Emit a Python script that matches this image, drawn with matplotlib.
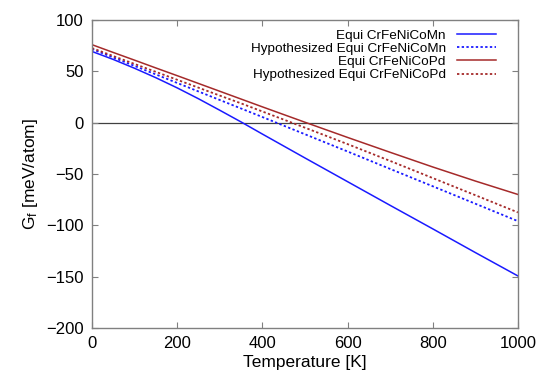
import numpy as np
import matplotlib as mpl
mpl.rcParams['figure.dpi'] = 100
import matplotlib.pyplot as plt

plt.rcParams['font.family'] = ['Liberation Sans', 'DejaVu Sans']
plt.rcParams['mathtext.fontset'] = 'custom'
plt.rcParams['mathtext.rm'] = 'Liberation Sans'
plt.rcParams['mathtext.it'] = 'Liberation Sans:italic'

# temperature grid [K]
temp = [0, 50, 100, 150, 200, 250, 300, 350, 400, 500, 600, 700, 800, 900, 1000]

# formation free energy [meV/atom]
mn_equi = [69.5, 61.7, 53.1, 43.9, 34.0, 23.4, 12.2, 0.8, -11.0, -34.3, -57.4, -80.5, -103.4, -126.5, -149.3]
mn_hyp = [71.8, 63.6, 55.4, 47.1, 38.8, 30.5, 22.2, 13.9, 5.6, -11.2, -28.0, -45.0, -61.9, -78.9, -95.9]
pd_equi = [76.1, 68.5, 61.0, 53.4, 45.9, 38.3, 30.7, 23.1, 15.5, 0.5, -14.3, -28.8, -43.1, -56.8, -69.9]
pd_hyp = [72.8, 65.0, 57.3, 49.6, 41.9, 34.2, 26.5, 18.9, 11.0, -4.8, -20.8, -37.2, -53.9, -70.6, -87.4]

labels = ['Equi CrFeNiCoMn', 'Hypothesized Equi CrFeNiCoMn',
          'Equi CrFeNiCoPd', 'Hypothesized Equi CrFeNiCoPd']

blue = '#1a1aff'
red = '#a52a2a'
dots = (0, (1.3, 1.3))

fig = plt.figure(figsize=(5.44, 3.8))
ax = fig.add_axes([0.169, 0.137, 0.783, 0.81])

ax.axhline(0, color='#404040', lw=0.9, zorder=1)
ax.plot(temp, mn_equi, color=blue, lw=1.1, label=labels[0])
ax.plot(temp, mn_hyp, color=blue, lw=1.3, ls=dots, label=labels[1])
ax.plot(temp, pd_equi, color=red, lw=1.1, label=labels[2])
ax.plot(temp, pd_hyp, color=red, lw=1.3, ls=dots, label=labels[3])

ax.set_xlim(0, 1000)
ax.set_ylim(-200, 100)
ax.set_xticks([0, 200, 400, 600, 800, 1000])
ax.set_yticks([-200, -150, -100, -50, 0, 50, 100])
ax.set_yticklabels(['\u2212200', '\u2212150', '\u2212100', '\u221250', '0', '50', '100'])
ax.tick_params(direction='in', top=True, right=True, length=4, width=0.8,
               color='#808080', labelsize=12, pad=6)
for s in ax.spines.values():
    s.set_color('#808080')
    s.set_linewidth(1.0)

ax.set_xlabel('Temperature [K]', fontsize=12.5, labelpad=3)
ax.set_ylabel(r'G$_\mathrm{f}$ [meV/atom]', fontsize=12.5, labelpad=4)

leg = ax.legend(loc='upper right', frameon=False, markerfirst=False, fontsize=9.7,
                handlelength=2.9, handletextpad=0.8, labelspacing=0.05,
                borderaxespad=0.3, bbox_to_anchor=(0.97, 1.0))
for col in leg._legend_handle_box.get_children():
    col.align = 'right'

fig.savefig('out.png', dpi=100)
